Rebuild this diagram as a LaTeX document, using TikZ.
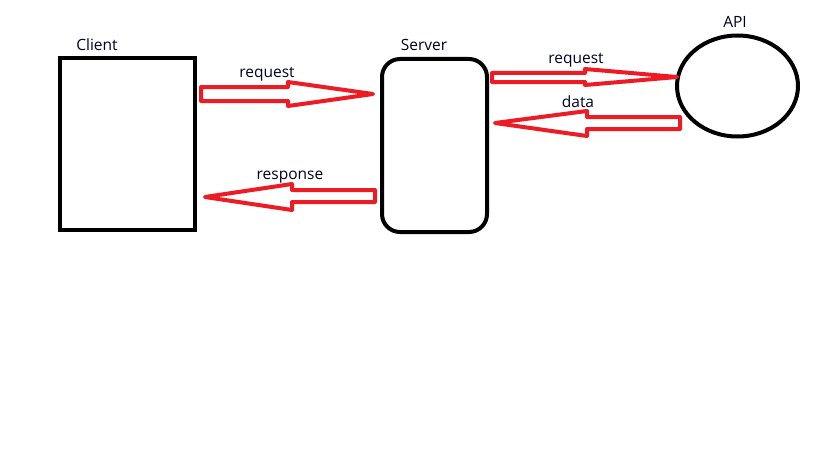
\documentclass[tikz,border=0pt]{standalone}
\usepackage{fontspec}
\setmainfont{Open Sans}
\usetikzlibrary{shapes.geometric}
\definecolor{paintred}{HTML}{ED1C24}
\begin{document}
\begin{tikzpicture}[x=1pt,y=-1pt,
  box/.style={draw=black,line width=4pt},
  blockarrow/.style={draw=paintred,line width=4pt,line join=round},
  lbl/.style={font=\fontsize{15.5}{18}\selectfont,inner sep=0pt,text=black!85!blue}]
\useasboundingbox (0,0) rectangle (819,460);
\fill[white] (0,0) rectangle (819,460);

% Components
\draw[box] (60,58) rectangle (195,230);
\draw[box,rounded corners=18pt] (382,59) rectangle (487,232);
\node[box,ellipse,minimum width=121pt,minimum height=101pt,inner sep=0pt] (api) at (737.5,86) {};

\node[lbl] (clientlbl) at (97,45) {Client};
\node[lbl] (serverlbl) at (424,45) {Server};
\node[lbl] (apilbl) at (735,22) {API};

% Client -> Server request
\draw[blockarrow] (201,87) -- (288,87) -- (288,82) -- (373,94) -- (288,106) -- (288,101) -- (201,101) -- cycle;
\node[lbl] (req1) at (267,74) {request};

% Server -> Client response
\draw[blockarrow] (375,190) -- (292,190) -- (292,184) -- (205,197) -- (292,210) -- (292,202) -- (375,202) -- cycle;
\node[lbl] (resp) at (290,177) {response};

% Server -> API request
\draw[blockarrow] (492,73) -- (585,73) -- (585,69) -- (677,77) -- (585,85) -- (585,82) -- (492,82) -- cycle;
\node[lbl] (req2) at (576,60) {request};

% API -> Server data
\draw[blockarrow] (680,117) -- (587,117) -- (587,111) -- (495,123) -- (587,136) -- (587,129) -- (680,129) -- cycle;
\node[lbl] (data) at (578,102) {data};
\end{tikzpicture}
\end{document}
